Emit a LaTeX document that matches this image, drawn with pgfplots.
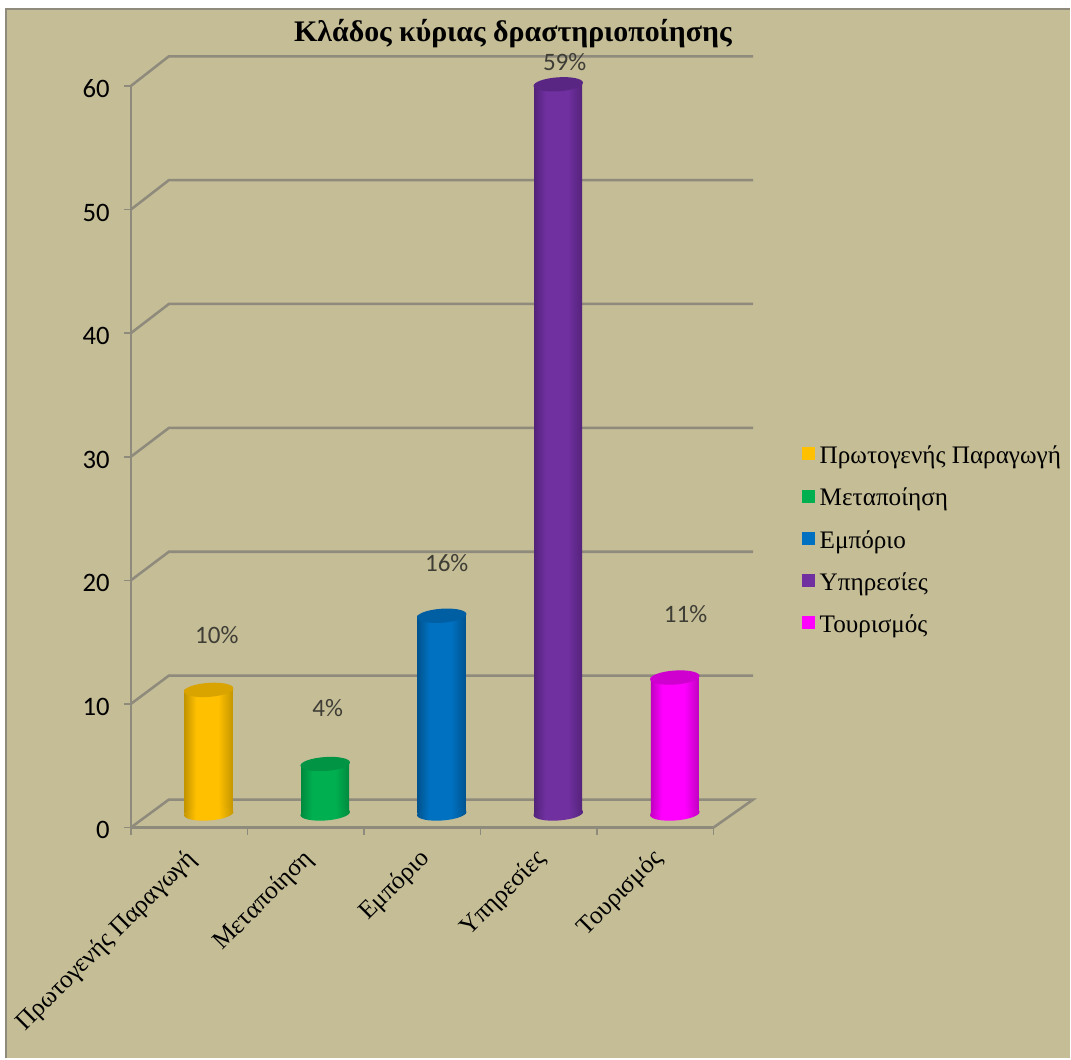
\documentclass[border=0pt]{standalone}
\usepackage{fontspec}
\setmainfont{Liberation Serif}
\newfontfamily\calib{Carlito}
\usepackage{pgfplots}
\pgfplotsset{compat=1.18}

\definecolor{panel}{HTML}{C5BD96}
\definecolor{rule}{HTML}{8E8A7C}
\definecolor{valuetext}{HTML}{3F3E36}

% One palette per category: face, edge of the cylinder, top cap.
\newcommand\cylpalette[4]{%
  \definecolor{col#1}{HTML}{#2}%
  \definecolor{edge#1}{HTML}{#3}%
  \definecolor{cap#1}{HTML}{#4}%
  \pgfdeclarehorizontalshading{cyl#1}{100bp}{%
    color(0bp)=(edge#1); color(25bp)=(edge#1); color(37bp)=(col#1);
    color(60bp)=(col#1); color(75bp)=(edge#1); color(100bp)=(edge#1)}%
  \pgfdeclareplotmark{base#1}{%
    \begin{pgfscope}%
      \pgfpathellipse{\pgfpointorigin}{\pgfpoint{18.55pt}{1.30pt}}{\pgfpoint{-0.37pt}{5.24pt}}%
      \pgfshadepath{cyl#1}{0}%
      \pgfusepath{discard}%
    \end{pgfscope}}%
  \pgfdeclareplotmark{top#1}{%
    \pgfsetfillcolor{cap#1}%
    \pgfpathellipse{\pgfpointorigin}{\pgfpoint{18.55pt}{1.30pt}}{\pgfpoint{-0.37pt}{5.24pt}}%
    \pgfusepathqfill}%
}
\cylpalette{A}{FFC000}{C49600}{D9A300}
\cylpalette{B}{00B050}{008A3E}{009444}
\cylpalette{C}{0070C0}{00548F}{005EA3}
\cylpalette{D}{7030A0}{53227A}{592684}
\cylpalette{E}{FF00FF}{C000C0}{CF00CF}

% Base, shaded body and cap of one cylinder: tag, position, value.
\newcommand\cylbar[3]{%
  \addplot[only marks,mark=base#1,forget plot] coordinates {(#2,0)};
  \addplot[ybar,bar width=36pt,bar shift=0pt,draw=none,shade,shading=cyl#1,
    legend image code/.code={%
      \pgfsetfillcolor{col#1}%
      \pgfpathrectangle{\pgfpoint{0pt}{-3.4pt}}{\pgfpoint{9.75pt}{9.75pt}}%
      \pgfusepathqfill}]
    coordinates {(#2,#3)};
  \addplot[only marks,mark=top#1,forget plot] coordinates {(#2,#3)};
}

\begin{document}
\begin{tikzpicture}[x=0.75pt,y=0.75pt]
  % Page and panel
  \fill[white] (0,0) rectangle (1071,1059);
  \fill[panel] (6,0) rectangle (1071,1050);
  \draw[rule,line width=1pt] (6,0) -- (6,1050) -- (1071,1050);

  % Front plane, walls and floor
  \begin{axis}[
    at={(98.25pt,173.25pt)},anchor=origin,
    scale only axis,width=437.25pt,height=556.5pt,
    xmin=0,xmax=5,ymin=0,ymax=60,clip=false,
    axis lines=left,axis line style={-,rule,line width=1.9pt},
    tick style={rule,line width=1.2pt},tick align=outside,
    major tick length=5.5pt,
    xtick={0,1,2,3,4,5},xticklabels={},
    extra x ticks={0.5,1.5,2.5,3.5,4.5},
    extra x tick labels={Πρωτογενής Παραγωγή,Μεταποίηση,Εμπόριο,Υπηρεσίες,Τουρισμός},
    extra x tick style={major tick length=0pt,
      tick label style={rotate=45,anchor=north east,xshift=-9.4pt,yshift=-4.4pt,
        font=\fontsize{19}{22}\selectfont}},
    ytick={0,10,20,30,40,50,60},
    yticklabel style={font=\calib\fontsize{20}{23}\selectfont,xshift=-7pt,yshift=-2.2pt},
    /pgf/number format/assume math mode=true,
    title={\textbf{Κλάδος κύριας δραστηριοποίησης}},
    title style={font=\fontsize{22.4}{26}\selectfont,at={(0.656,1.060)},anchor=center},
  ]
    \addplot[rule,line width=1.9pt] coordinates {(0,0)(0.326,2.26)(5.34,2.26)(5,0)};
    \addplot[rule,line width=1.9pt] coordinates {(0,10)(0.326,12.29)(5.34,12.29)};
    \addplot[rule,line width=1.9pt] coordinates {(0,20)(0.326,22.31)(5.34,22.31)};
    \addplot[rule,line width=1.9pt] coordinates {(0,30)(0.326,32.33)(5.34,32.33)};
    \addplot[rule,line width=1.9pt] coordinates {(0,40)(0.326,42.36)(5.34,42.36)};
    \addplot[rule,line width=1.9pt] coordinates {(0,50)(0.326,52.38)(5.34,52.38)};
    \addplot[rule,line width=1.9pt] coordinates {(0,60)(0.326,62.40)(5.34,62.40)};
  \end{axis}

  % Cylinders, stepped forward from the front plane, with value labels and legend
  \begin{axis}[
    at={(112.875pt,183.75pt)},anchor=origin,
    scale only axis,width=437.25pt,height=556.5pt,
    xmin=0,xmax=5,ymin=0,ymax=60,clip=false,hide axis,
    legend style={draw=none,fill=none,at={(1.118,0.4995)},anchor=north west,
      font=\fontsize{18.9}{22}\selectfont,row sep=12.8pt,inner sep=0pt,
      /tikz/every even column/.append style={column sep=6pt}},
    legend cell align=left,
  ]
    \cylbar{A}{0.5}{10}
    \cylbar{B}{1.5}{4}
    \cylbar{C}{2.5}{16}
    \cylbar{D}{3.5}{59}
    \cylbar{E}{4.5}{11}
    \addlegendentry{\kern1.5pt Πρωτογενής Παραγωγή}
    \addlegendentry{\kern1.5pt Μεταποίηση}
    \addlegendentry{\kern1.5pt Εμπόριο}
    \addlegendentry{\kern1.5pt Υπηρεσίες}
    \addlegendentry{\kern1.5pt Τουρισμός}

    % Percentage labels: x, label height, value
    \addplot[only marks,mark=none,forget plot,
      nodes near coords={\pgfmathprintnumber{\pgfplotspointmeta}\%},
      point meta=explicit,
      every node near coord/.append style={anchor=center,inner sep=0pt,text=valuetext,
        font=\calib\fontsize{18.8}{22}\selectfont,/pgf/number format/assume math mode=true}]
      table[x=x,y=ypos,meta=v] {
      x     ypos   v
      0.570 14.47  10
      1.522 8.49   4
      2.543 20.29  16
      3.555 60.79  59
      4.593 16.17  11
    };
  \end{axis}
\end{tikzpicture}
\end{document}
